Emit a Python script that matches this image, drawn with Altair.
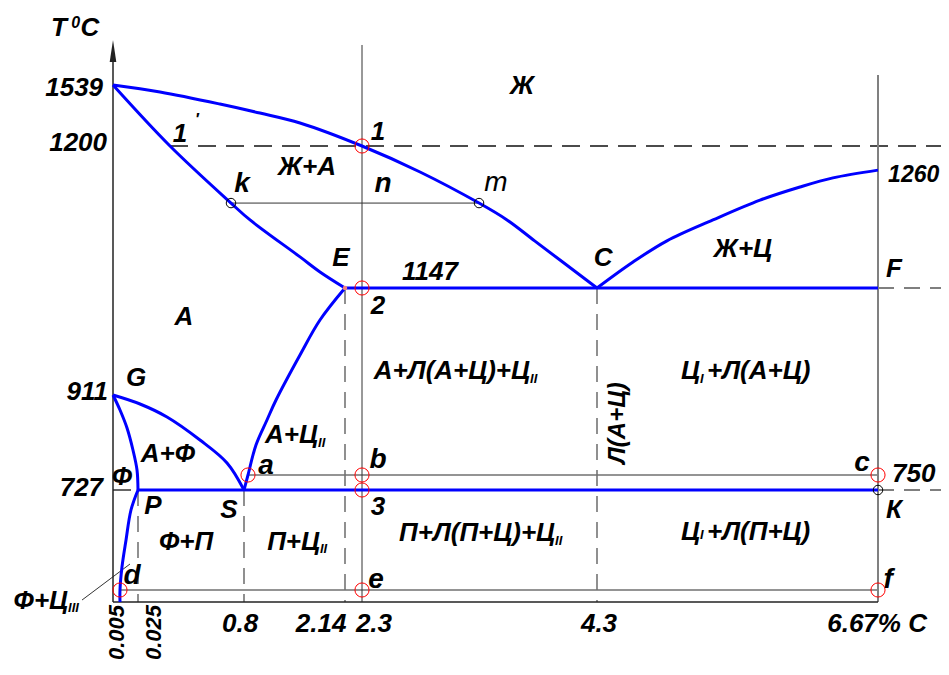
import altair as alt
import pandas as pd

FONT = "Liberation Sans"
BLUE = "#0000ff"

# ---------------- data (carbon %, temperature °C) ----------------
# blue phase-boundary curves
AC_C = [0, 0.186, 0.624, 1.012, 1.543, 2.3, 2.794, 3.296, 3.534, 3.772, 4.3]
AC_T = [1539, 1500, 1433, 1383, 1328, 1200, 1190.3, 1178.7, 1172.4, 1164.5, 1147]
CD_C = [4.3, 4.604, 4.890, 5.278, 5.675, 6.012, 6.290, 6.67]
CD_T = [1147, 1156.7, 1164.6, 1172.4, 1179.8, 1184.7, 1188.1, 1191.0]
AE_C = [0, 0.259, 0.705, 0.880, 1.543, 1.808, 2.14]
AE_T = [1539, 1200, 1178.7, 1172.4, 1158.6, 1153, 1147]
ES_C = [2.14, 1.808, 1.543, 1.225, 1.105, 0.959, 0.853, 0.8]
ES_T = [1147, 1076.4, 999.2, 900.9, 860.7, 810.4, 750, 727]
GS_C = [0, 0.0396, 0.237, 0.478, 0.676, 0.8]
GS_T = [911, 892.9, 866.7, 820.4, 774.2, 727]
GP_C = [0, 0.005, 0.0128, 0.0194, 0.0239, 0.025]
GP_T = [911, 880.8, 844.6, 800.3, 760.1, 727]
PQ_C = [0.025, 0.0172, 0.0117, 0.0072, 0.005, 0.005]
PQ_T = [727, 585.6, 373.5, 182.6, 20, 0]
ECF_C = [2.14, 6.67]
ECF_T = [1147, 1147]
PSK_C = [0.025, 6.67]
PSK_T = [727, 727]

# straight helper lines: start (c1,t1) -> end (c2,t2)
AXIS_C1, AXIS_T1, AXIS_C2, AXIS_T2 = [0, 0], [0, 0], [0, 6.67], [1667, 0]
THIN_C1 = [2.3, 0.705, -0.274]
THIN_T1 = [0, 1178.7, 3.3]
THIN_C2 = [2.3, 3.296, 0.0161]
THIN_T2 = [1685.4, 1178.7, 203.8]
GREYV_C1, GREYV_T1, GREYV_C2, GREYV_T2 = [6.67], [0], [6.67], [1575.6]
GREYH_C1 = [0.853, 0.005]
GREYH_T1 = [750, 20]
GREYH_C2 = [6.67, 6.67]
GREYH_T2 = [750, 20]
DASHK_C1 = [0.259, 0]
DASHK_T1 = [1200, 727]
DASHK_C2 = [7.2, 0.025]
DASHK_T2 = [1200, 727]
DASHG_C1 = [6.67, 6.67, 0.025, 0.8, 2.14, 4.3]
DASHG_T1 = [1147, 727, 727, 727, 1147, 1147]
DASHG_C2 = [7.2, 7.2, 0.025, 0.8, 2.14, 4.3]
DASHG_T2 = [1147, 727, 0, 0, 0, 0]

# marked points
RED_C = [2.3, 2.3, 2.3, 2.3, 2.3, 0.853, 6.67, 6.67, 0.005]
RED_T = [1200, 1147, 750, 727, 20, 750, 750, 20, 20]
BLK_C = [0.705, 3.296, 6.67]
BLK_T = [1178.7, 1178.7, 727]
E_C, E_T = [2.14], [1147]
ARROW_C, ARROW_T = [0], [1663.4]

# labels
BIG_TEXT = ["Ж", "Ж+А", "1", "1", "E", "1147", "2", "C", "Ж+Ц", "F", "А", "G",
            "А+Ф", "Ф", "P", "S", "3", "К", "Ф+П",
            "0.8", "2.14", "2.3", "4.3", "6.67% C", "T", "C"]
BIG_C = [3.662, 1.636, 0.332, 2.436, 2.087, 2.879, 2.436, 4.351, 5.531, 6.805, 0.361, 0.0228,
         0.244, 0.0072, 0.135, 0.690, 2.436, 6.805, 0.376,
         0.771, 1.822, 2.402, 4.317, 6.662, -0.478, -0.204]
BIG_T = [1533.4, 1192.2, 1266.7, 1277.8, 1158.2, 1153, 1107.3, 1158.2, 1161.6, 1154.1, 1083, 948.5,
         792.3, 746.9, 613.9, 585.6, 606.8, 585.6, 359.4,
         -36.7, -36.7, -36.7, -36.7, -36.7, 1747.6, 1747.6]

LOW_TEXT = ["k", "n", "a", "b", "c", "d", "e", "f"]
LOW_C = [0.785, 2.479, 1.092, 2.436, 6.535, 0.0183, 2.419, 6.755]
LOW_T = [1185.8, 1185.8, 768.1, 780.2, 774.2, 119, 90.7, 90.7]
M_TEXT, M_C, M_T = ["m"], [3.44], [1186.2]
SUP_TEXT = ["0", "′"]
SUP_C = [-0.33, 0.455]
SUP_T = [1765.9, 1345]

RIGHT_TEXT = ["1539", "1200", "911", "727", "А+Л(А+Ц)+Ц", "А+Ц", "П+Ц", "П+Л(П+Ц)+Ц", "Ф+Ц", "Ц", "Ц"]
RIGHT_C = [-0.088, -0.053, -0.044, -0.088, 3.730, 1.782, 1.808, 3.943, -0.398, 5.169, 5.169]
RIGHT_T = [1522.3, 1216.7, 917.6, 730.1, 964, 830.5, 359.4, 423, 1.7, 964, 430]
LEFT_TEXT = ["750", "+Л(А+Ц)", "+Л(П+Ц)"]
LEFT_C = [6.788, 5.228, 5.228]
LEFT_T = [752, 964, 430]
EDGE_TEXT, EDGE_C, EDGE_T = ["1260"], [6.755], [1189.2]
SUB_TEXT = ["II", "II", "II", "II", "III", "I", "I"]
SUB_C = [3.730, 1.782, 1.808, 3.943, -0.398, 5.169, 5.169]
SUB_T = [946.3, 814.4, 309.9, 366.4, -10, 946.3, 412]
ROT_TEXT = ["0.005", "0.025"]
ROT_C = [0.0029, 0.142]
ROT_T = [-5, -5]
ROTC_TEXT, ROTC_C, ROTC_T = ["Л(А+Ц)"], [4.477], [854.7]

# ---------------- scales (piecewise, schematic diagram) ----------------
X_DOMAIN = [-1, 0, 0.005, 0.025, 0.8, 2.14, 2.3, 4.3, 6.67, 7.2]
X_RANGE = [-8, 105, 112, 130, 236, 337, 354, 589, 870, 933]
Y_DOMAIN = [-120, 0, 20, 727, 750, 911, 1147, 1200, 1539, 1850]
Y_RANGE = [666, 594, 582, 482, 467, 387, 280, 138, 77, -8]
XS = alt.Scale(domain=X_DOMAIN, range=X_RANGE, nice=False, zero=False)
YS = alt.Scale(domain=Y_DOMAIN, range=Y_RANGE, nice=False, zero=False)


def X(f):
    return alt.X(f, type="quantitative", scale=XS, axis=None)


def Y(f):
    return alt.Y(f, type="quantitative", scale=YS, axis=None)


# ---------------- layers ----------------
curves = []
for name, cs, ts in [("AC", AC_C, AC_T), ("CD", CD_C, CD_T), ("AE", AE_C, AE_T),
                     ("ES", ES_C, ES_T), ("GS", GS_C, GS_T), ("GP", GP_C, GP_T),
                     ("PQ", PQ_C, PQ_T)]:
    curves.append(pd.DataFrame({"id": name, "i": range(len(cs)), "c": cs, "t": ts}))
curve_df = pd.concat(curves, ignore_index=True)
flat = []
for name, cs, ts in [("ECF", ECF_C, ECF_T), ("PSK", PSK_C, PSK_T)]:
    flat.append(pd.DataFrame({"id": name, "i": range(len(cs)), "c": cs, "t": ts}))
flat_df = pd.concat(flat, ignore_index=True)


def rules(c1, t1, c2, t2, color, width, dash=None):
    df = pd.DataFrame({"c1": c1, "t1": t1, "c2": c2, "t2": t2})
    kw = dict(color=color, strokeWidth=width)
    if dash:
        kw["strokeDash"] = dash
    return alt.Chart(df).mark_rule(**kw).encode(
        x=X("c1"), y=Y("t1"), x2=alt.X2("c2"), y2=alt.Y2("t2"))


def texts(ts_, cs, tt, size, align="center", weight="bold", angle=0, style="italic"):
    df = pd.DataFrame({"s": ts_, "c": cs, "t": tt})
    return alt.Chart(df).mark_text(
        font=FONT, fontStyle=style, fontWeight=weight, fontSize=size,
        align=align, baseline="middle", angle=angle, color="black"
    ).encode(x=X("c"), y=Y("t"), text="s:N")


def points(cs, tt, color, size, filled=False, shape="circle", width=1):
    df = pd.DataFrame({"c": cs, "t": tt})
    return alt.Chart(df).mark_point(
        shape=shape, filled=filled, color=color, size=size, strokeWidth=width, opacity=1
    ).encode(x=X("c"), y=Y("t"))


layers = [
    rules(DASHG_C1, DASHG_T1, DASHG_C2, DASHG_T2, "#555555", 1.3, [16, 10]),
    rules(DASHK_C1, DASHK_T1, DASHK_C2, DASHK_T2, "#111111", 1.3, [18, 10]),
    rules(GREYH_C1, GREYH_T1, GREYH_C2, GREYH_T2, "#707070", 1.6),
    rules(GREYV_C1, GREYV_T1, GREYV_C2, GREYV_T2, "#808080", 2),
    rules(THIN_C1, THIN_T1, THIN_C2, THIN_T2, "#333333", 1),
    rules(AXIS_C1, AXIS_T1, AXIS_C2, AXIS_T2, "#222222", 1.5),
    alt.Chart(curve_df).mark_line(color=BLUE, strokeWidth=3, interpolate="catmull-rom").encode(
        x=X("c"), y=Y("t"), detail="id:N", order=alt.Order("i:Q")),
    alt.Chart(flat_df).mark_line(color=BLUE, strokeWidth=3).encode(
        x=X("c"), y=Y("t"), detail="id:N", order=alt.Order("i:Q")),
    points(RED_C, RED_T, "#ff0000", 200),
    points(BLK_C, BLK_T, "#000000", 90),
    points(E_C, E_T, "#f08080", 20, filled=True),
    points(ARROW_C, ARROW_T, "#222222", 484, filled=True, shape="M0,-1L0.3,1L-0.3,1Z", width=0),
    texts(BIG_TEXT, BIG_C, BIG_T, 26),
    texts(LOW_TEXT, LOW_C, LOW_T, 28),
    texts(M_TEXT, M_C, M_T, 28, weight="normal"),
    texts(SUP_TEXT, SUP_C, SUP_T, 16),
    texts(RIGHT_TEXT, RIGHT_C, RIGHT_T, 26, align="right"),
    texts(LEFT_TEXT, LEFT_C, LEFT_T, 26, align="left"),
    texts(EDGE_TEXT, EDGE_C, EDGE_T, 23, align="left"),
    texts(SUB_TEXT, SUB_C, SUB_T, 13, align="left"),
    texts(ROT_TEXT, ROT_C, ROT_T, 22, align="right", angle=270),
    texts(ROTC_TEXT, ROTC_C, ROTC_T, 24, align="center", angle=270),
]

chart = alt.layer(*layers).properties(
    width=933, height=655,
    autosize=alt.AutoSizeParams(type="none"),
    padding=0,
).configure_view(stroke=None)

chart.save("out.html", embed_options={"renderer": "svg", "actions": False})
